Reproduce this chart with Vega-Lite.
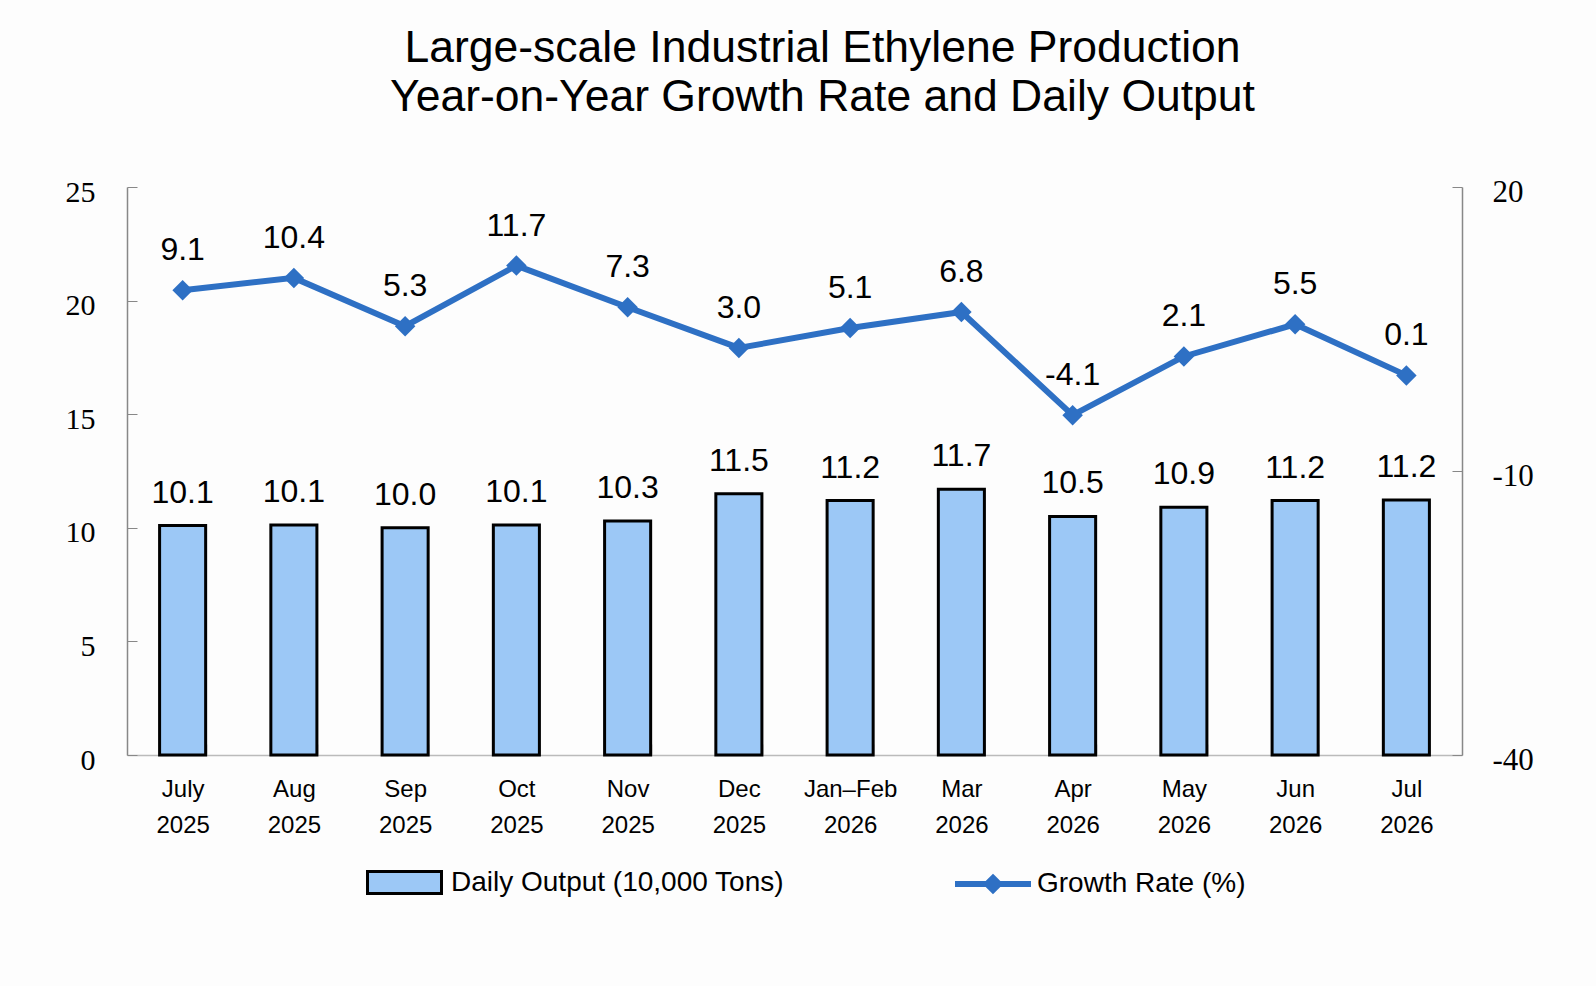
{
  "$schema": "https://vega.github.io/schema/vega-lite/v6.json",
  "description": "Large-scale industrial ethylene production: daily output (bars) and year-on-year growth (line).",
  "width": 1335,
  "height": 568,
  "autosize": {"type": "none"},
  "padding": {"left": 127, "top": 187, "right": 134, "bottom": 231},
  "background": "#fdfdfd",
  "title": {
    "text": ["Large-scale Industrial Ethylene Production", "Year-on-Year Growth Rate and Daily Output"],
    "font": "Liberation Sans",
    "fontSize": 44.5,
    "fontWeight": "normal",
    "lineHeight": 49,
    "color": "black",
    "anchor": "middle",
    "dx": 28,
    "offset": 56
  },
  "data": {
    "values": [
      {"month": "July 2025", "output": 10.1, "growth": 9.1},
      {"month": "Aug 2025", "output": 10.12, "growth": 10.4},
      {"month": "Sep 2025", "output": 10.0, "growth": 5.3},
      {"month": "Oct 2025", "output": 10.12, "growth": 11.7},
      {"month": "Nov 2025", "output": 10.3, "growth": 7.3},
      {"month": "Dec 2025", "output": 11.5, "growth": 3.0},
      {"month": "Jan–Feb 2026", "output": 11.2, "growth": 5.1},
      {"month": "Mar 2026", "output": 11.7, "growth": 6.8},
      {"month": "Apr 2026", "output": 10.5, "growth": -4.1},
      {"month": "May 2026", "output": 10.9, "growth": 2.1},
      {"month": "Jun 2026", "output": 11.2, "growth": 5.5},
      {"month": "Jul 2026", "output": 11.22, "growth": 0.1}
    ]
  },
  "encoding": {
    "x": {
      "field": "month",
      "type": "ordinal",
      "sort": null,
      "scale": {"paddingInner": 0.586, "paddingOuter": 0.293},
      "axis": {
        "title": null,
        "labelAngle": 0,
        "labelExpr": "isValid(datum.value) ? split(datum.value, ' ') : ''",
        "labelFont": "Liberation Sans",
        "labelFontSize": 24,
        "labelLineHeight": 36,
        "labelColor": "black",
        "labelPadding": 33,
        "ticks": true,
        "tickBand": "extent",
        "tickSize": -11,
        "tickWidth": 1.5,
        "tickColor": "#aaaaaa",
        "domainColor": "#bbbbbb",
        "domainWidth": 1.5
      }
    }
  },
  "layer": [
    {
      "layer": [
        {
          "mark": {"type": "bar", "stroke": "black", "strokeWidth": 3},
          "encoding": {
            "y": {
              "field": "output",
              "type": "quantitative",
              "scale": {"domain": [0, 25], "nice": false},
              "axis": {
                "orient": "left",
                "title": null,
                "values": [0, 5, 10, 15, 20, 25],
                "grid": false,
                "labelFont": "Liberation Serif",
                "labelFontSize": 30,
                "labelColor": "black",
                "labelPadding": 42,
                "labelOffset": 5,
                "tickSize": -10,
                "tickColor": "#888888",
                "domainColor": "#888888",
                "domainWidth": 1.5
              }
            },
            "fill": {
              "datum": "Daily Output (10,000 Tons)",
              "scale": {"range": ["#9cc8f6"]},
              "legend": {
                "orient": "none",
                "legendX": 239,
                "legendY": 657,
                "title": null,
                "padding": 0,
                "symbolType": "M-1,-0.3H1V0.3H-1Z",
                "symbolSize": 5476,
                "symbolStrokeColor": "black",
                "symbolStrokeWidth": 3,
                "labelFont": "Liberation Sans",
                "labelFontSize": 28,
                "labelColor": "black",
                "labelOffset": 8,
                "labelLimit": 600
              }
            }
          }
        },
        {
          "mark": {"type": "text", "font": "Liberation Sans", "fontSize": 32, "baseline": "alphabetic", "dy": -23, "color": "black"},
          "encoding": {
            "y": {"field": "output", "type": "quantitative"},
            "text": {"field": "output", "type": "quantitative", "format": ".1f"}
          }
        }
      ]
    },
    {
      "layer": [
        {
          "mark": {"type": "line", "strokeWidth": 6},
          "encoding": {
            "y": {
              "field": "growth",
              "type": "quantitative",
              "scale": {"domain": [-40, 20], "nice": false},
              "axis": {
                "orient": "right",
                "title": null,
                "values": [-40, -10, 20],
                "grid": false,
                "labelFont": "Liberation Serif",
                "labelFontSize": 31,
                "labelColor": "black",
                "labelPadding": 40,
                "labelOffset": 5,
                "tickSize": -10,
                "tickColor": "#888888",
                "domainColor": "#888888",
                "domainWidth": 1.5
              }
            },
            "stroke": {
              "datum": "Growth Rate (%)",
              "scale": {"range": ["#2e70c4"]},
              "legend": {
                "orient": "none",
                "legendX": 825,
                "legendY": 656,
                "title": null,
                "padding": 0,
                "symbolType": "M-1,0H1M0,-0.16L0.16,0L0,0.16L-0.16,0Z",
                "symbolSize": 5776,
                "symbolStrokeWidth": 6,
                "symbolFillColor": "#2e70c4",
                "labelFont": "Liberation Sans",
                "labelFontSize": 28,
                "labelColor": "black",
                "labelOffset": 3,
                "labelLimit": 600
              }
            }
          }
        },
        {
          "mark": {"type": "point", "shape": "diamond", "size": 420, "filled": true, "opacity": 1, "color": "#2e70c4"},
          "encoding": {
            "y": {"field": "growth", "type": "quantitative"}
          }
        },
        {
          "mark": {"type": "text", "font": "Liberation Sans", "fontSize": 32, "baseline": "alphabetic", "dy": -30, "color": "black"},
          "encoding": {
            "y": {"field": "growth", "type": "quantitative"},
            "text": {"field": "growth", "type": "quantitative", "format": ".1f"}
          }
        }
      ]
    }
  ],
  "resolve": {"scale": {"y": "independent", "fill": "independent"}},
  "config": {
    "view": {"stroke": null},
    "locale": {
      "number": {"decimal": ".", "thousands": ",", "grouping": [3], "currency": ["", ""], "minus": "-"}
    }
  }
}
